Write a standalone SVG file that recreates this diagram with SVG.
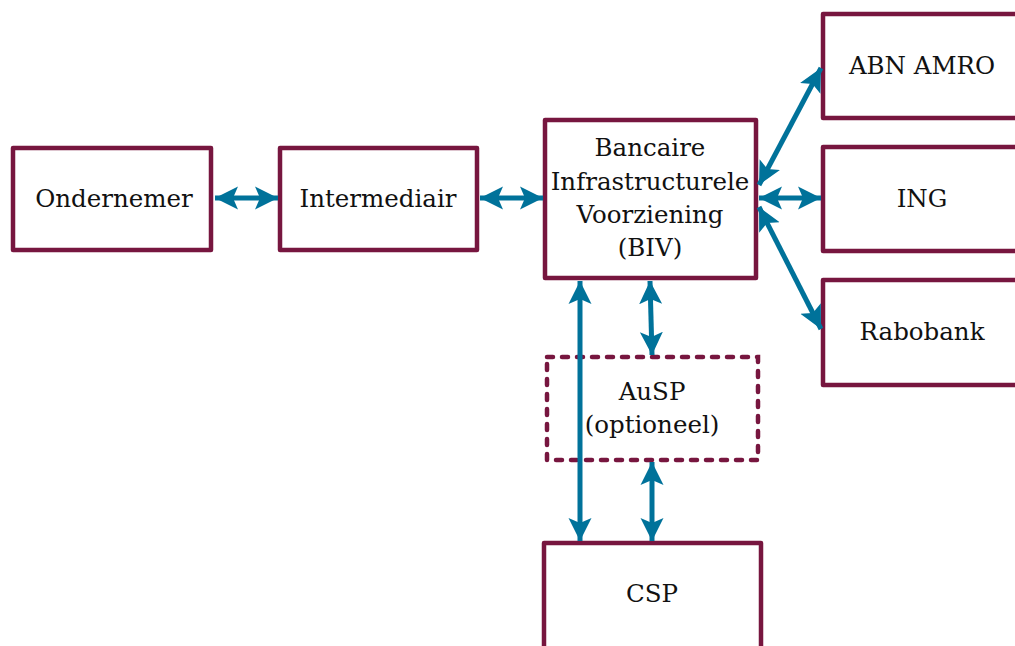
<svg xmlns="http://www.w3.org/2000/svg" width="1015" height="646" viewBox="0 0 1015 646">
<style>
.box{fill:#ffffff;stroke:#77163F;stroke-width:4.5;stroke-linejoin:round}
.dash{fill:none;stroke:#77163F;stroke-width:4.5;stroke-dasharray:6 9;stroke-linecap:round}
.lbl{font-family:"DejaVu Serif","Liberation Serif",serif;font-size:24.5px;fill:#111111;text-anchor:middle}
.arr{stroke:#00729A;stroke-width:5;fill:none;marker-start:url(#ah);marker-end:url(#ah)}
</style>
<defs>
<marker id="ah" markerUnits="userSpaceOnUse" markerWidth="26" markerHeight="26" viewBox="0 0 26 26" refX="23" refY="13" orient="auto-start-reverse">
<path d="M0,1.5 L23,13 L0,24.5 L5,13 z" fill="#00729A"/>
</marker>
</defs>
<rect width="1015" height="646" fill="#ffffff"/>
<g id="ondernemer">
<rect class="box" x="13" y="148" width="198" height="102"/>
<text class="lbl" x="114" y="207">Ondernemer</text>
</g>
<g id="intermediair">
<rect class="box" x="280" y="148" width="197" height="102"/>
<text class="lbl" x="378" y="207">Intermediair</text>
</g>
<g id="biv">
<rect class="box" x="545" y="120" width="211" height="158"/>
<text class="lbl" x="650" y="156">Bancaire</text>
<text class="lbl" x="650" y="190">Infrastructurele</text>
<text class="lbl" x="650" y="223">Voorziening</text>
<text class="lbl" x="650" y="256">(BIV)</text>
</g>
<g id="abnamro">
<rect class="box" x="823" y="14" width="220" height="104"/>
<text class="lbl" x="922" y="74">ABN AMRO</text>
</g>
<g id="ing">
<rect class="box" x="823" y="147" width="220" height="104"/>
<text class="lbl" x="922" y="207">ING</text>
</g>
<g id="rabobank">
<rect class="box" x="823" y="280" width="220" height="105"/>
<text class="lbl" x="922" y="340">Rabobank</text>
</g>
<g id="ausp">
<rect class="dash" x="547" y="357" width="211" height="103"/>
<text class="lbl" x="652" y="400">AuSP</text>
<text class="lbl" x="652" y="433">(optioneel)</text>
</g>
<g id="csp">
<rect class="box" x="544" y="543" width="217" height="115"/>
<text class="lbl" x="652" y="602">CSP</text>
</g>
<g id="connectors">
<line class="arr" x1="215" y1="198" x2="278" y2="198"/>
<line class="arr" x1="480" y1="198" x2="543" y2="198"/>
<line class="arr" x1="759" y1="198" x2="821" y2="198"/>
<line class="arr" x1="759" y1="185" x2="821" y2="68"/>
<line class="arr" x1="759" y1="207" x2="821" y2="329"/>
<line class="arr" x1="580" y1="281" x2="580" y2="541"/>
<line class="arr" x1="650" y1="281" x2="652" y2="355"/>
<line class="arr" x1="652" y1="462" x2="652" y2="541"/>
</g>
</svg>
